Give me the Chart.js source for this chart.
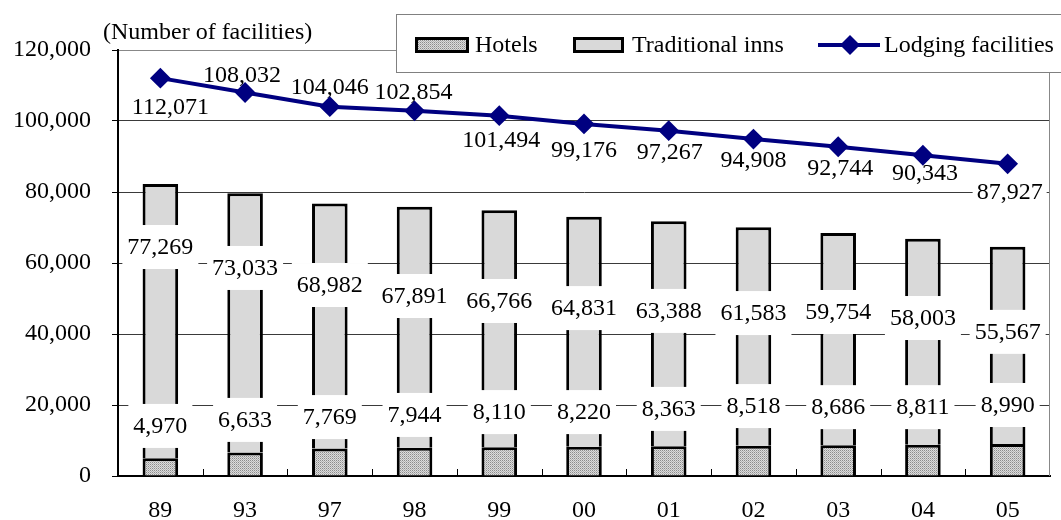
<!DOCTYPE html>
<html>
<head>
<meta charset="utf-8">
<title>Lodging facilities</title>
<script src="https://cdn.jsdelivr.net/npm/chart.js@4.4.1/dist/chart.umd.min.js"></script>
<style>
  html, body { margin: 0; padding: 0; background: #fff; }
  #wrap { width: 1061px; height: 520px; }
</style>
</head>
<body>
<div id="wrap"><canvas id="c" width="1061" height="520"></canvas></div>
<script>
// Fiscal years and facility counts
const years   = ['89', '93', '97', '98', '99', '00', '01', '02', '03', '04', '05'];
const hotels  = [4970, 6633, 7769, 7944, 8110, 8220, 8363, 8518, 8686, 8811, 8990];
const inns    = [77269, 73033, 68982, 67891, 66766, 64831, 63388, 61583, 59754, 58003, 55567];
const lodging = [112071, 108032, 104046, 102854, 101494, 99176, 97267, 94908, 92744, 90343, 87927];
const yTicks  = [0, 20000, 40000, 60000, 80000, 100000, 120000];

// Where the value labels sit: bar labels at a height on the value axis,
// line labels nudged in pixels from their point.
const hotelLabelAt = [14100, 15800, 16600, 17200, 18000, 18000, 18900, 19700, 19400, 19400, 20000];
const innLabelAt   = [64500, 58600, 53800, 50700, 49300, 47300, 46500, 45900, 46200, 44500, 40600];
const lodgingLabelDx = [10, -3, 0, -1, 2, 0, 1, 0, 2, 2, 2];
const lodgingLabelDy = [29, -18, -20, -19, 24, 26, 21, 21, 21, 17, 28];

const FONT = 'Liberation Serif, "Times New Roman", serif';
const fmt = v => v.toLocaleString('en-US');

// Stippled grey fill for the hotels segment
function makeStipple() {
  const c = document.createElement('canvas');
  c.width = 2; c.height = 2;
  const g = c.getContext('2d');
  g.fillStyle = '#dcdcdc'; g.fillRect(0, 0, 2, 2);
  g.fillStyle = '#8c8c8c'; g.fillRect(0, 0, 1, 1);
  g.fillStyle = '#b4b4b4'; g.fillRect(1, 1, 1, 1);
  return g.createPattern(c, 'repeat');
}
const stipple = makeStipple();

function boxLabel(ctx, text, cx, cy, padX, padY) {
  ctx.save();
  ctx.font = '24px ' + FONT;
  const w = ctx.measureText(text).width;
  ctx.fillStyle = '#fff';
  ctx.fillRect(cx - w / 2 - padX, cy - 12 - padY, w + 2 * padX, 24 + 2 * padY);
  ctx.fillStyle = '#000';
  ctx.textAlign = 'center';
  ctx.textBaseline = 'middle';
  ctx.fillText(text, cx, cy + 1);
  ctx.restore();
}

const decorations = {
  id: 'decorations',
  beforeDraw(chart) {
    const c = chart.ctx;
    c.save();
    c.fillStyle = '#fff';
    c.fillRect(0, 0, chart.width, chart.height);
    c.restore();
  },
  beforeDatasetsDraw(chart) {
    const c = chart.ctx, a = chart.chartArea;
    // right edge of the plot frame
    c.save();
    c.strokeStyle = '#888';
    c.lineWidth = 1;
    c.beginPath();
    c.moveTo(a.right - 0.5, a.top);
    c.lineTo(a.right - 0.5, a.bottom);
    c.stroke();
    // small inward tick marks between categories
    c.strokeStyle = '#000';
    const n = years.length, step = (a.right - a.left) / n;
    c.beginPath();
    for (let i = 1; i < n; i++) {
      const x = Math.round(a.left + i * step) + 0.5;
      c.moveTo(x, a.bottom - 7);
      c.lineTo(x, a.bottom);
    }
    c.stroke();
    c.restore();
    // lodging values, drawn under the line
    const meta = chart.getDatasetMeta(0);
    meta.data.forEach((pt, i) => {
      boxLabel(c, fmt(lodging[i]), pt.x + lodgingLabelDx[i], pt.y + lodgingLabelDy[i], 4, 0);
    });
  },
  afterDatasetsDraw(chart) {
    const c = chart.ctx, y = chart.scales.y, x = chart.scales.x;
    years.forEach((yr, i) => {
      const cx = x.getPixelForValue(i);
      boxLabel(c, fmt(inns[i]), cx, y.getPixelForValue(innLabelAt[i]), 5, 10);
      boxLabel(c, fmt(hotels[i]), cx, y.getPixelForValue(hotelLabelAt[i]), 5, 10);
    });
  },
  afterDraw(chart) {
    const c = chart.ctx;
    c.save();
    // unit caption
    c.font = '24px ' + FONT;
    c.fillStyle = '#000';
    c.textAlign = 'left';
    c.textBaseline = 'middle';
    c.fillText('(Number of facilities)', 103, 33);
    // legend frame
    c.fillStyle = '#fff';
    c.fillRect(396, 14, 700, 59);
    c.strokeStyle = '#808080';
    c.lineWidth = 1;
    c.strokeRect(396.5, 14.5, 700, 58);
    const ds = chart.data.datasets;
    const cy = 45;
    // hotels swatch
    c.fillStyle = stipple;
    c.fillRect(415, 37, 54, 16);
    c.strokeStyle = '#000';
    c.lineWidth = 3;
    c.strokeRect(416.5, 38.5, 51, 13);
    c.fillStyle = '#000';
    c.fillText(ds[1].label, 475, cy + 1);
    // traditional inns swatch
    c.fillStyle = '#d9d9d9';
    c.fillRect(573, 37, 51, 16);
    c.strokeRect(574.5, 38.5, 48, 13);
    c.fillStyle = '#000';
    c.fillText(ds[2].label, 632, cy + 1);
    // lodging line swatch
    c.strokeStyle = '#000080';
    c.lineWidth = 4;
    c.beginPath();
    c.moveTo(818, cy);
    c.lineTo(880, cy);
    c.stroke();
    c.fillStyle = '#000080';
    c.beginPath();
    c.moveTo(850, cy - 10);
    c.lineTo(860, cy);
    c.lineTo(850, cy + 10);
    c.lineTo(840, cy);
    c.closePath();
    c.fill();
    c.fillStyle = '#000';
    c.fillText(ds[0].label, 884, cy + 1);
    c.restore();
  }
};

new Chart(document.getElementById('c'), {
  type: 'bar',
  data: {
    labels: years,
    datasets: [
      {
        type: 'line',
        label: 'Lodging facilities',
        data: lodging,
        stack: 'total',
        order: 0,
        borderColor: '#000080',
        backgroundColor: '#000080',
        borderWidth: 4,
        tension: 0,
        pointStyle: 'rectRot',
        pointRadius: 9,
        pointBorderWidth: 2,
        pointBackgroundColor: '#000080',
        pointBorderColor: '#000080'
      },
      {
        label: 'Hotels',
        data: hotels,
        stack: 'bars',
        order: 1,
        backgroundColor: stipple,
        borderColor: '#000',
        borderWidth: 3,
        borderSkipped: 'start',
        barPercentage: 0.42,
        categoryPercentage: 1
      },
      {
        label: 'Traditional inns',
        data: inns,
        stack: 'bars',
        order: 1,
        backgroundColor: '#d9d9d9',
        borderColor: '#000',
        borderWidth: 3,
        borderSkipped: 'start',
        barPercentage: 0.42,
        categoryPercentage: 1
      }
    ]
  },
  options: {
    responsive: false,
    animation: false,
    events: [],
    layout: { padding: { top: 50, right: 1, left: 0, bottom: 0 } },
    plugins: {
      legend: { display: false },
      tooltip: { enabled: false },
      title: { display: false }
    },
    scales: {
      x: {
        stacked: true,
        offset: true,
        afterFit: s => { s.height = 44; },
        border: { color: '#000', width: 2 },
        grid: { display: true, drawOnChartArea: false, drawTicks: false },
        ticks: {
          color: '#000',
          padding: 20,
          maxRotation: 0,
          autoSkip: false,
          font: { family: FONT, size: 24 }
        }
      },
      y: {
        stacked: true,
        min: 0,
        max: 120000,
        afterBuildTicks: s => { s.ticks = yTicks.map(v => ({ value: v })); },
        afterFit: s => { s.width = 118; },
        border: { color: '#000', width: 2 },
        grid: {
          color: c => (c.tick && c.tick.value === 120000) ? '#888' : '#3a3a3a',
          lineWidth: 1,
          tickLength: 6,
          tickColor: '#000'
        },
        ticks: {
          color: '#000',
          padding: 21,
          font: { family: FONT, size: 24 },
          callback: v => fmt(v)
        }
      }
    }
  },
  plugins: [decorations]
});
</script>
</body>
</html>
